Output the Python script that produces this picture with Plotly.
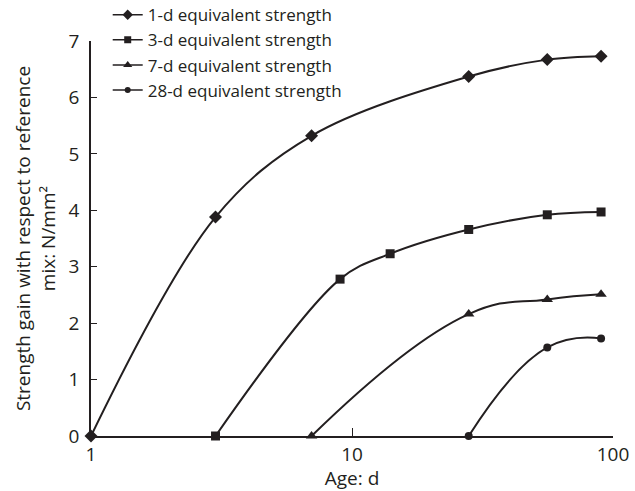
import plotly.graph_objects as go

# Strength gain (N/mm²) relative to reference mix, by age in days
age_1d = [1, 3, 7, 28, 56, 90]
gain_1d = [0, 3.88, 5.32, 6.37, 6.67, 6.73]

age_3d = [3, 9, 14, 28, 56, 90]
gain_3d = [0, 2.78, 3.23, 3.66, 3.92, 3.97]

age_7d = [7, 28, 56, 90]
gain_7d = [0, 2.16, 2.42, 2.51]

age_28d = [28, 56, 90]
gain_28d = [0, 1.57, 1.73]

series_names = [
    "1-d equivalent strength",
    "3-d equivalent strength",
    "7-d equivalent strength",
    "28-d equivalent strength",
]

ink = "#231f20"
font_family = "Open Sans, Noto Sans, sans-serif"
text_size = 19

fig = go.Figure()

# (x, y, marker symbol, marker size, legend marker size, spline smoothing)
series = [
    (age_1d, gain_1d, "diamond", 10, 8, 1.0),
    (age_3d, gain_3d, "square", 9, 7, 1.0),
    (age_7d, gain_7d, "triangle-up", 10, 8, 1.3),
    (age_28d, gain_28d, "circle", 8, 6, 1.3),
]

for name, (xs, ys, sym, size, legend_size, smooth) in zip(series_names, series):
    # the curve itself, kept out of the legend
    fig.add_trace(go.Scatter(
        x=xs, y=ys, name=name,
        mode="lines+markers",
        line=dict(color=ink, width=2, shape="spline", smoothing=smooth),
        marker=dict(symbol=sym, size=size, color=ink),
        cliponaxis=False, showlegend=False,
    ))
    # legend entry with a smaller marker
    fig.add_trace(go.Scatter(
        x=[None], y=[None], name=name,
        mode="lines+markers",
        line=dict(color=ink, width=1.5),
        marker=dict(symbol=sym, size=legend_size, color=ink),
        showlegend=True,
    ))

fig.update_layout(
    width=635, height=491,
    margin=dict(l=91, r=22, t=41, b=55, autoexpand=False),
    plot_bgcolor="white", paper_bgcolor="white",
    font=dict(family=font_family, size=text_size, color=ink),
    showlegend=True,
    legend=dict(
        x=0.032, y=1.111, xanchor="left", yanchor="top",
        bgcolor="rgba(0,0,0,0)", font=dict(size=17),
        tracegroupgap=0, itemwidth=30,
    ),
)

fig.update_xaxes(
    type="log", range=[0, 2],
    tickvals=[1, 10, 100], ticktext=["1", "10", "100"],
    ticks="inside", ticklen=8, tickcolor=ink, tickwidth=1.2,
    showline=True, linecolor=ink, linewidth=1.5,
    showgrid=False, zeroline=False,
    title=dict(text="Age: d", standoff=2, font=dict(size=text_size)),
)

fig.update_yaxes(
    range=[0, 7], dtick=1,
    ticks="inside", ticklen=6, tickcolor=ink, tickwidth=1.2,
    showline=True, linecolor=ink, linewidth=1.5,
    showgrid=False, zeroline=False, ticklabelstandoff=6,
    title=dict(text="Strength gain with respect to reference<br>mix: N/mm²",
               standoff=8, font=dict(size=text_size)),
)

fig.write_html("out.html")
